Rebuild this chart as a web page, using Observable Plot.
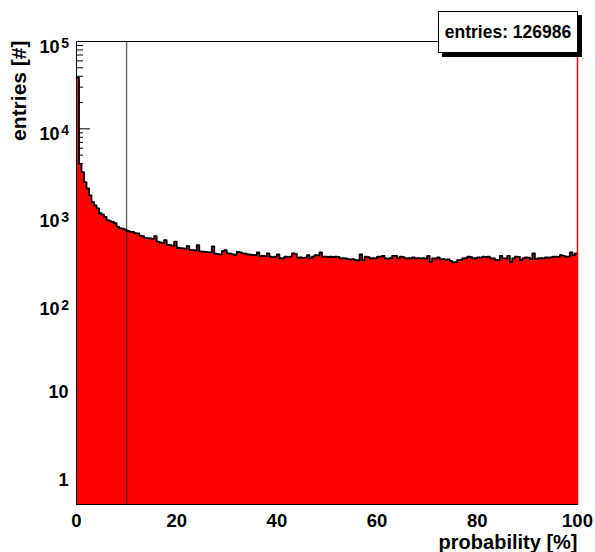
<!DOCTYPE html>
<html><head><meta charset="utf-8">
<script src="https://cdn.jsdelivr.net/npm/d3@7"></script>
<script src="https://cdn.jsdelivr.net/npm/@observablehq/plot@0.6"></script>
<style>
html,body{margin:0;padding:0;background:#fff;}
#wrap{position:relative;width:595px;height:552px;}
#wrap svg{display:block;}
#legend{position:absolute;left:438px;top:11px;width:138px;height:40px;border:1px solid #000;background:#fff;box-shadow:4px 4px 0 #000;font:bold 17.5px "Liberation Sans",Arial,sans-serif;display:flex;align-items:center;justify-content:center;color:#000;}
</style></head><body><div id="wrap"><div id="legend"></div></div>
<script>
// histogram bin contents (200 bins over 0..100 %)
const counts = [
38600,4000,3200,2450,2080,1730,1450,1330,1230,1080,
1040,980,900,880,860,830,760,730,720,700,
680,665,660,640,635,600,590,565,560,555,
550,590,510,500,495,530,470,465,460,510,
435,430,428,425,455,410,408,405,465,395,
392,390,388,385,450,372,368,365,398,408,
375,372,365,362,390,385,375,372,365,362,
360,358,385,352,350,348,375,343,340,345,
365,330,328,343,340,345,375,370,335,338,
333,336,358,329,343,358,355,385,343,345,
340,343,340,345,342,329,330,328,323,320,
322,314,312,365,314,343,340,329,330,328,
343,345,352,329,327,330,352,350,329,343,
340,329,330,328,337,329,331,328,330,327,
350,301,329,328,337,320,322,318,320,306,
296,298,314,315,329,330,343,340,329,330,
337,335,343,340,345,329,328,314,316,352,
329,329,352,301,329,343,342,314,329,337,
335,323,375,323,329,330,328,337,335,338,
343,345,342,358,352,343,345,385,358,375
];
const xRange = [0, 100];
const yRange = [0.5, 1e5];
const cutValue = 10;
const entriesLabel = "entries: 126986";
const xTicks = [0, 20, 40, 60, 80, 100];
const yTicks = [1, 10, 100, 1000, 10000, 100000];
const yTickBase = ["1", "10", "10", "10", "10", "10"];
const yTickExp = ["", "", "2", "3", "4", "5"];
const xTitle = "probability [%]";
const yTitle = "entries [#]";

const nBins = counts.length;
const binW = (xRange[1] - xRange[0]) / nBins;
const steps = counts.map((v, i) => ({x: xRange[0] + i * binW, v}));
steps.push({x: xRange[1], v: counts[nBins - 1]});
const minorTicks = [];
for (let e = 0; e < 5; e++) for (let m = 2; m <= 9; m++) minorTicks.push(m * 10 ** e);
const yLab = yTicks.map((v, i) => ({v, base: yTickBase[i], exp: yTickExp[i]}));
const plainLab = yLab.filter(d => !d.exp);
const expLab = yLab.filter(d => d.exp);

const font = '"Liberation Sans", Arial, Helvetica, sans-serif';
const chart = Plot.plot({
  width: 595, height: 552,
  marginLeft: 76, marginRight: 18, marginTop: 41, marginBottom: 48,
  style: {fontFamily: font, background: "#fff", color: "#000", overflow: "visible"},
  x: {domain: xRange, axis: null},
  y: {type: "log", domain: yRange, axis: null},
  marks: [
    Plot.axisY({ticks: yTicks, tickSize: 14, dx: 14, fill: "none", stroke: "#000"}),
    Plot.axisY({ticks: minorTicks, tickSize: 7, dx: 7, fill: "none", stroke: "#000"}),
    Plot.areaY(steps, {x: "x", y1: yRange[0], y2: "v", curve: "step-after", fill: "#ff0000"}),
    Plot.lineY(steps, {x: "x", y: "v", curve: "step-after", stroke: "#000", strokeWidth: 1.8}),
    Plot.ruleX([cutValue], {y1: yRange[0], y2: yRange[1], stroke: "#000", strokeOpacity: 0.6, strokeWidth: 1.4}),
    Plot.frame({stroke: "#000"}),
    Plot.ruleX([xRange[1]], {y1: yRange[0], y2: yRange[1], stroke: "#ff0000", strokeWidth: 1.5}),
    Plot.text(plainLab, {y: "v", text: "base", frameAnchor: "left", textAnchor: "end", lineAnchor: "bottom", dx: -8, dy: 7.5, fontSize: 18, fontWeight: "bold", fill: "#000"}),
    Plot.text(expLab, {y: "v", text: "base", frameAnchor: "left", textAnchor: "end", lineAnchor: "bottom", dx: -17, dy: 11, fontSize: 18, fontWeight: "bold", fill: "#000"}),
    Plot.text(expLab, {y: "v", text: "exp", frameAnchor: "left", textAnchor: "end", lineAnchor: "bottom", dx: -7.5, dy: 6, fontSize: 14, fontWeight: "bold", fill: "#000"}),
    Plot.text(xTicks, {x: d => d, text: d => String(d), frameAnchor: "bottom", lineAnchor: "bottom", dy: 22.5, fontSize: 18.5, fontWeight: "bold", fill: "#000"}),
    Plot.text([xTitle], {text: d => d, frameAnchor: "bottom-right", textAnchor: "end", lineAnchor: "bottom", dy: 44, fontSize: 20, fontWeight: "bold", fill: "#000"}),
    Plot.text([yTitle], {text: d => d, frameAnchor: "top-left", rotate: -90, textAnchor: "end", lineAnchor: "bottom", dx: -51, dy: -1, fontSize: 21, fontWeight: "bold", fill: "#000"})
  ]
});
const wrap = document.getElementById("wrap");
wrap.insertBefore(chart, wrap.firstChild);
document.getElementById("legend").textContent = entriesLabel;
</script>
</body></html>
